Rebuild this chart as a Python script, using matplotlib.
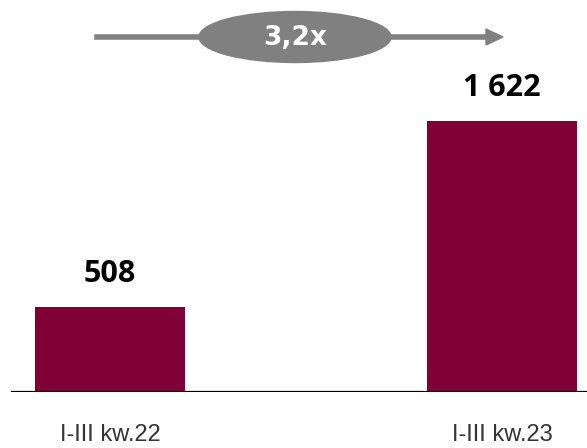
import matplotlib.pyplot as plt
from matplotlib.patches import Ellipse

categories = ["I-III kw.22", "I-III kw.23"]
values = [508, 1622]
value_labels = ["508", "1 622"]
growth_label = "3,2x"

W, H = 587, 448
fig = plt.figure(figsize=(W / 100, H / 100), dpi=100)
ax = fig.add_axes([0, 56 / H, 1, 1 - 56 / H])

x = list(range(len(categories)))
ax.bar(x, values, width=150 / 392, color="#800038", zorder=2)
ax.set_xlim(-110 / 392, 477 / 392)
ax.set_ylim(0, 392 * 1622 / 271)

for xi, v, lab in zip(x, values, value_labels):
    ax.annotate(lab, (xi, v), xytext=(0, 13), textcoords="offset points",
                ha="center", va="bottom", fontsize=22, fontweight="bold",
                family="Open Sans", color="black")

# baseline
ax.axhline(0, xmin=12 / W, xmax=1, color="black", lw=1.6, zorder=3)

for s in ax.spines.values():
    s.set_visible(False)
ax.set_yticks([])
ax.set_xticks(x)
ax.set_xticklabels(categories, family="Liberation Sans", fontsize=17, color="#333333")
ax.tick_params(axis="x", length=0, pad=23)

# growth arrow with ellipse
fig.add_artist(plt.Line2D([97 / W, 488 / W], [1 - 37 / H, 1 - 37 / H],
                          transform=fig.transFigure, color="#808080", lw=4))
fig.add_artist(plt.Polygon([[486 / W, 1 - 29 / H], [503 / W, 1 - 37 / H], [486 / W, 1 - 45 / H]],
                           closed=True, transform=fig.transFigure, color="#808080"))
fig.add_artist(Ellipse((295 / W, 1 - 37 / H), 192 / W, 51 / H,
                       transform=fig.transFigure, color="#808080"))
fig.text(295 / W, 1 - 38 / H, growth_label, ha="center", va="center", color="white",
         fontsize=19, fontweight="bold", family="DejaVu Sans")

fig.savefig("out.png", dpi=100)
